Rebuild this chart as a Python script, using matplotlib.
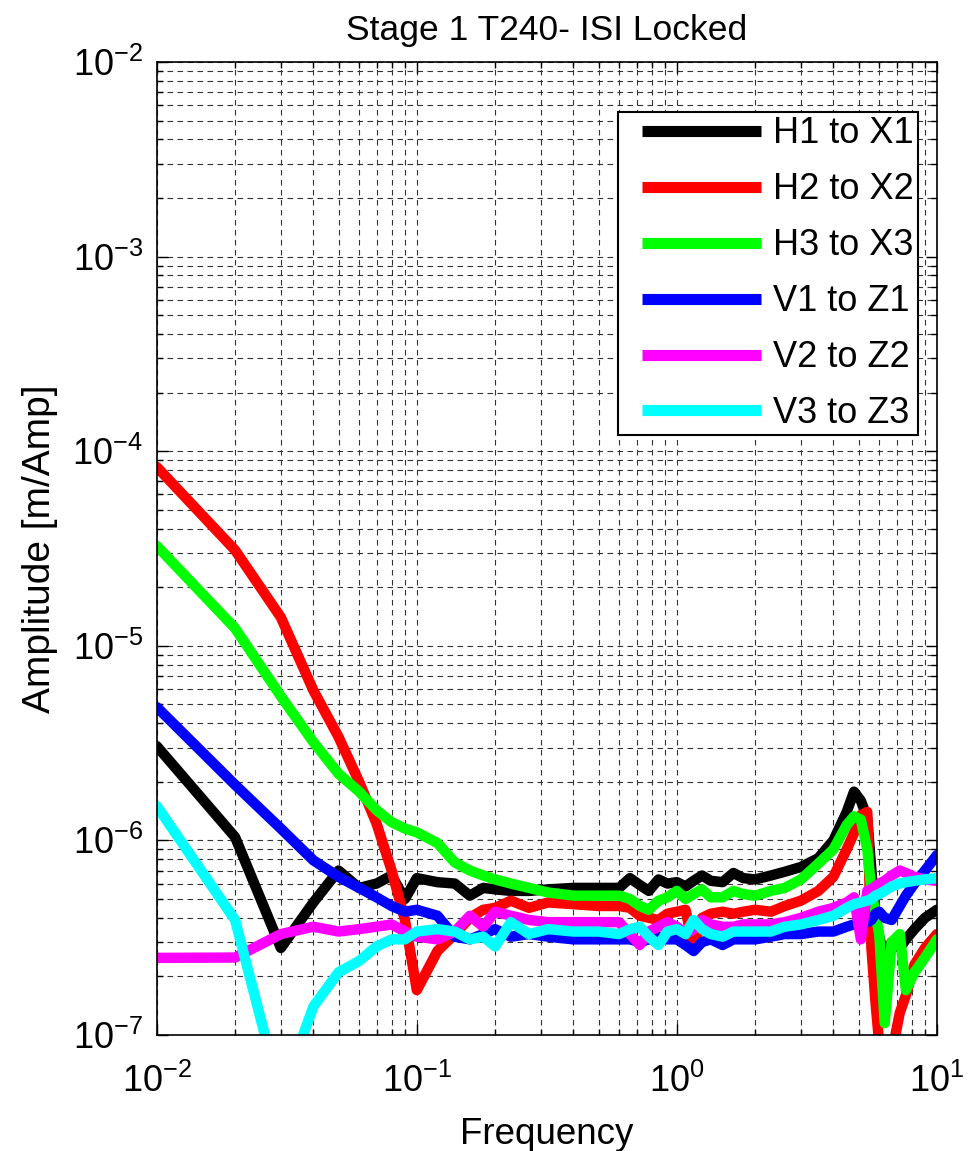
import numpy as np
import matplotlib
matplotlib.use('Agg')
import matplotlib.pyplot as plt
from matplotlib.ticker import LogLocator, NullFormatter
from matplotlib.legend_handler import HandlerLine2D
from matplotlib.lines import Line2D

# Fuentes estilo MATLAB
plt.rcParams['font.family'] = ['Liberation Sans', 'DejaVu Sans']
plt.rcParams['mathtext.fontset'] = 'custom'
plt.rcParams['mathtext.rm'] = 'Liberation Sans'
plt.rcParams['mathtext.it'] = 'Liberation Sans'
plt.rcParams['axes.unicode_minus'] = False

# Datos
freq = [0.01, 0.02, 0.03, 0.04, 0.05, 0.06, 0.07, 0.08, 0.09, 0.10,
        0.12, 0.14, 0.16, 0.18, 0.20, 0.23, 0.27, 0.32, 0.40, 0.50,
        0.60, 0.66, 0.72, 0.78, 0.85, 0.92, 1.0, 1.08, 1.16, 1.25,
        1.35, 1.5, 1.65, 1.8, 2.0, 2.3, 2.6, 3.0, 3.5, 4.0,
        4.5, 4.8, 5.1, 5.4, 5.6, 5.8, 6.0, 6.3, 6.7, 7.2,
        7.6, 8.2, 9.0, 10.0]

h1_x1 = [3.05e-6, 1.04e-6, 2.8e-7, 4.8e-7, 7.0e-7, 5.7e-7, 6.0e-7, 6.6e-7, 5.0e-7, 6.4e-7,
         6.1e-7, 6.0e-7, 5.2e-7, 5.7e-7, 5.6e-7, 5.5e-7, 5.5e-7, 5.6e-7, 5.7e-7, 5.7e-7,
         5.7e-7, 6.4e-7, 5.9e-7, 5.5e-7, 6.3e-7, 6.0e-7, 6.1e-7, 5.8e-7, 6.2e-7, 6.6e-7,
         6.2e-7, 6.1e-7, 6.8e-7, 6.4e-7, 6.3e-7, 6.6e-7, 6.9e-7, 7.3e-7, 8.1e-7, 1.0e-6,
         1.4e-6, 1.78e-6, 1.6e-6, 1.3e-6, 7.0e-7, 4.0e-7, 3.2e-7, 2.5e-7, 3.0e-7, 2.8e-7,
         3.1e-7, 3.5e-7, 4.0e-7, 4.4e-7]

h2_x2 = [8.3e-5, 3.1e-5, 1.4e-5, 5.9e-6, 3.4e-6, 2.0e-6, 1.22e-6, 7.0e-7, 3.9e-7, 1.7e-7,
         2.7e-7, 3.3e-7, 4.0e-7, 4.4e-7, 4.5e-7, 4.9e-7, 4.5e-7, 4.8e-7, 4.7e-7, 4.6e-7,
         4.6e-7, 4.5e-7, 4.1e-7, 4.0e-7, 3.9e-7, 4.2e-7, 4.3e-7, 4.4e-7, 2.8e-7, 4.0e-7,
         4.2e-7, 4.3e-7, 4.2e-7, 4.3e-7, 4.4e-7, 4.3e-7, 4.6e-7, 4.9e-7, 5.5e-7, 6.5e-7,
         9.0e-7, 1.09e-6, 1.35e-6, 1.4e-6, 2.8e-7, 1.5e-7, 9e-8, 8e-8, 8e-8, 1.3e-7,
         1.6e-7, 2.3e-7, 2.8e-7, 3.3e-7]

h3_x3 = [3.26e-5, 1.23e-5, 5.5e-6, 3.2e-6, 2.2e-6, 1.78e-6, 1.43e-6, 1.24e-6, 1.15e-6, 1.1e-6,
         9.7e-7, 7.7e-7, 7.0e-7, 6.6e-7, 6.3e-7, 6.0e-7, 5.7e-7, 5.4e-7, 5.2e-7, 5.2e-7,
         5.2e-7, 5.0e-7, 4.6e-7, 4.4e-7, 4.9e-7, 5.1e-7, 5.5e-7, 5.0e-7, 5.3e-7, 5.6e-7,
         5.1e-7, 5.1e-7, 5.5e-7, 5.3e-7, 5.2e-7, 5.5e-7, 5.7e-7, 6.3e-7, 7.6e-7, 9.0e-7,
         1.2e-6, 1.33e-6, 1.28e-6, 9.0e-7, 5.5e-7, 4.2e-7, 3.3e-7, 1.15e-7, 3.0e-7, 3.3e-7,
         1.7e-7, 2.1e-7, 2.5e-7, 3.1e-7]

v1_z1 = [4.84e-6, 1.93e-6, 1.15e-6, 7.9e-7, 6.5e-7, 5.7e-7, 5.1e-7, 4.6e-7, 4.3e-7, 4.4e-7,
         4.1e-7, 3.2e-7, 3.1e-7, 3.3e-7, 3.5e-7, 3.2e-7, 3.3e-7, 3.2e-7, 3.1e-7, 3.1e-7,
         3.1e-7, 3.1e-7, 3.0e-7, 3.1e-7, 3.2e-7, 3.1e-7, 3.1e-7, 2.9e-7, 2.7e-7, 3.0e-7,
         3.1e-7, 2.9e-7, 3.1e-7, 3.1e-7, 3.1e-7, 3.2e-7, 3.3e-7, 3.3e-7, 3.4e-7, 3.4e-7,
         3.6e-7, 3.7e-7, 3.7e-7, 3.8e-7, 3.9e-7, 4.2e-7, 4.3e-7, 4.0e-7, 3.9e-7, 4.6e-7,
         5.2e-7, 6.0e-7, 7.0e-7, 8.4e-7]

v2_z2 = [2.49e-7, 2.5e-7, 3.3e-7, 3.6e-7, 3.4e-7, 3.5e-7, 3.6e-7, 3.7e-7, 3.4e-7, 3.2e-7,
         3.1e-7, 3.4e-7, 4.1e-7, 3.6e-7, 4.3e-7, 4.1e-7, 3.9e-7, 3.8e-7, 3.8e-7, 3.8e-7,
         3.8e-7, 3.3e-7, 2.9e-7, 3.4e-7, 3.6e-7, 3.8e-7, 3.6e-7, 3.3e-7, 3.5e-7, 3.9e-7,
         3.7e-7, 3.6e-7, 3.6e-7, 3.7e-7, 3.7e-7, 3.7e-7, 3.8e-7, 4.0e-7, 4.3e-7, 4.5e-7,
         4.8e-7, 5.1e-7, 3.1e-7, 5.5e-7, 5.6e-7, 5.8e-7, 6.0e-7, 6.2e-7, 6.6e-7, 7.0e-7,
         6.8e-7, 6.5e-7, 6.3e-7, 6.2e-7]

v3_z3 = [1.5e-6, 3.9e-7, 4.8e-8, 1.4e-7, 2.1e-7, 2.4e-7, 2.85e-7, 3.1e-7, 3.1e-7, 3.4e-7,
         3.5e-7, 3.4e-7, 3.1e-7, 3.2e-7, 2.85e-7, 3.8e-7, 3.3e-7, 3.5e-7, 3.4e-7, 3.4e-7,
         3.3e-7, 3.5e-7, 3.6e-7, 3.2e-7, 2.9e-7, 3.4e-7, 3.5e-7, 3.3e-7, 3.9e-7, 3.5e-7,
         3.3e-7, 3.2e-7, 3.4e-7, 3.4e-7, 3.4e-7, 3.4e-7, 3.6e-7, 3.7e-7, 3.9e-7, 4.1e-7,
         4.5e-7, 4.7e-7, 4.8e-7, 4.9e-7, 5.0e-7, 5.2e-7, 5.3e-7, 5.5e-7, 5.8e-7, 6.0e-7,
         6.1e-7, 6.2e-7, 6.3e-7, 6.4e-7]

labels = ['H1 to X1', 'H2 to X2', 'H3 to X3', 'V1 to Z1', 'V2 to Z2', 'V3 to Z3']
colors = ['#000000', '#ff0000', '#00ff00', '#0000ff', '#ff00ff', '#00ffff']
series = [h1_x1, h2_x2, h3_x3, v1_z1, v2_z2, v3_z3]

fig = plt.figure(figsize=(9.8, 11.51), dpi=100)
ax = fig.add_axes([0.160, 0.1008, 0.796, 0.8453])

for vals, col, lab in zip(series, colors, labels):
    ax.loglog(freq, vals, color=col, lw=7.5, label=lab,
              solid_joinstyle='round', solid_capstyle='round')

ax.set_xlim(1e-2, 1e1)
ax.set_ylim(1e-7, 1e-2)

# Rejilla estilo MATLAB
ax.xaxis.set_major_locator(LogLocator(base=10, numticks=10))
ax.xaxis.set_minor_locator(LogLocator(base=10, subs=np.arange(2, 10), numticks=20))
ax.yaxis.set_major_locator(LogLocator(base=10, numticks=10))
ax.yaxis.set_minor_locator(LogLocator(base=10, subs=np.arange(2, 10), numticks=20))
ax.xaxis.set_minor_formatter(NullFormatter())
ax.yaxis.set_minor_formatter(NullFormatter())
ax.grid(True, which='both', color='0.2', linestyle=(0, (5, 4)), lw=0.8)
ax.set_axisbelow(True)

ax.tick_params(which='both', direction='in', top=True, right=True, width=1)
ax.tick_params(which='major', length=8, labelsize=26)
ax.tick_params(axis='x', which='major', pad=21)
ax.tick_params(axis='y', which='major', pad=10)
ax.tick_params(which='minor', length=4)
for s in ax.spines.values():
    s.set_linewidth(1.2)

ax.set_title('Stage 1 T240- ISI Locked', fontsize=25.5, pad=16)
ax.set_xlabel('Frequency', fontsize=26.5, labelpad=12)
ax.set_ylabel('Amplitude [m/Amp]', fontsize=28, labelpad=10)

# Leyenda: linea de muestra con margen a ambos lados
hmap = {Line2D: HandlerLine2D(numpoints=2, marker_pad=0.546)}
leg = ax.legend(loc='upper right', bbox_to_anchor=(0.9756, 0.9486), borderaxespad=0,
                fontsize=26, handlelength=4.36, handletextpad=-0.21,
                labelspacing=0.58, borderpad=0.12, fancybox=False,
                framealpha=1, edgecolor='black', handler_map=hmap)
leg.get_frame().set_linewidth(1.5)
for ln in leg.get_lines():
    ln.set_linewidth(8)
    ln.set_solid_capstyle('butt')

fig.savefig('out.png', dpi=100)
